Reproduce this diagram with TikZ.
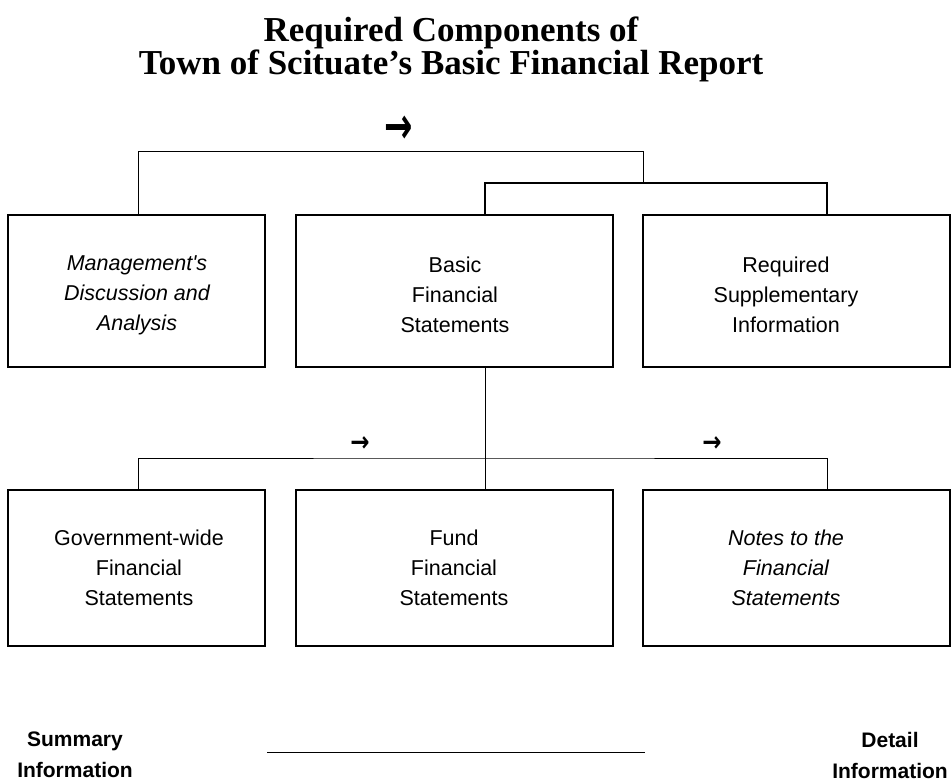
\documentclass[tikz,border=0pt]{standalone}
\usepackage{fontspec}
\usepackage{graphicx}
\setmainfont{Liberation Serif}
\newfontfamily\arialf{Liberation Sans}
\newfontfamily\symf{DejaVu Sans}
\begin{document}
\begin{tikzpicture}[x=1pt,y=-1pt,
  boxnode/.style={draw,line width=1.1pt,inner sep=0pt},
  boxtext/.style={font=\arialf\fontsize{21.5}{30}\selectfont,align=center,inner sep=0pt},
  boxitext/.style={boxtext,font=\arialf\itshape\fontsize{21.5}{30}\selectfont},
  arrowtext/.style={inner sep=0pt},
  labeltext/.style={font=\arialf\bfseries\fontsize{21}{31}\selectfont,align=center,inner sep=0pt},
  thinline/.style={line width=0.9pt},
  thickline/.style={line width=2pt}]
\useasboundingbox (0,0) rectangle (951,781);
% title
\node[font=\bfseries\fontsize{35}{32}\selectfont,align=center,inner sep=0pt] (title) at (451,49) {Required Components of\\Town of Scituate’s Basic Financial Report};
% boxes
\node[boxnode,minimum width=257pt,minimum height=152pt] (b1) at (136.5,291) {};
\node[boxnode,minimum width=317pt,minimum height=152pt] (b2) at (454.5,291) {};
\node[boxnode,minimum width=307pt,minimum height=152pt] (b3) at (796.5,291) {};
\node[boxnode,minimum width=257pt,minimum height=156pt] (b4) at (136.5,568) {};
\node[boxnode,minimum width=317pt,minimum height=156pt] (b5) at (454.5,568) {};
\node[boxnode,minimum width=307pt,minimum height=156pt] (b6) at (796.5,568) {};
% texts
\node[boxitext] (t1) at (137,295) {Management's\\Discussion and\\Analysis};
\node[boxtext] (t2) at (455,295) {Basic\\Financial\\Statements};
\node[boxtext] (t3) at (786,295) {Required\\Supplementary\\Information};
\node[boxtext] (t4) at (139,568) {Government-wide\\Financial\\Statements};
\node[boxtext] (t5) at (454,568) {Fund\\Financial\\Statements};
\node[boxitext] (t6) at (786,568) {Notes to the\\Financial\\Statements};
% arrow glyphs
\node[arrowtext] (a1) at (399,130) {\scalebox{1}[1.5]{\symf\bfseries\fontsize{34}{34}\selectfont →}};
\node[arrowtext] (a2) at (360,444) {\scalebox{1}[1.2]{\symf\bfseries\fontsize{23}{23}\selectfont →}};
\node[arrowtext] (a3) at (712,444) {\scalebox{1}[1.2]{\symf\bfseries\fontsize{23}{23}\selectfont →}};
% connector coordinates
\coordinate (xl) at (138,0);
\coordinate (xm) at (485,0);
\coordinate (xr) at (827,0);
\coordinate (tp) at (643,151);
\coordinate (j1) at (643,183);
\coordinate (j2) at (485,458);
\draw[thinline] (xl |- b1.north) |- (tp) -- (j1);
\draw[thickline] (xm |- b2.north) |- (j1) -| (xr |- b3.north);
\draw[thinline] (xm |- b2.south) -- (xm |- b5.north);
\draw[thinline] (xl |- b4.north) |- (j2) -| (xr |- b6.north);
% bottom labels
\node[labeltext] (sum) at (75,755) {Summary\\Information};
\node[labeltext] (det) at (890,755) {Detail\\Information};
\coordinate (l1) at (267,752);
\coordinate (l2) at (645,752);
\draw[thinline] (l1) -- (l2);
\end{tikzpicture}
\end{document}
